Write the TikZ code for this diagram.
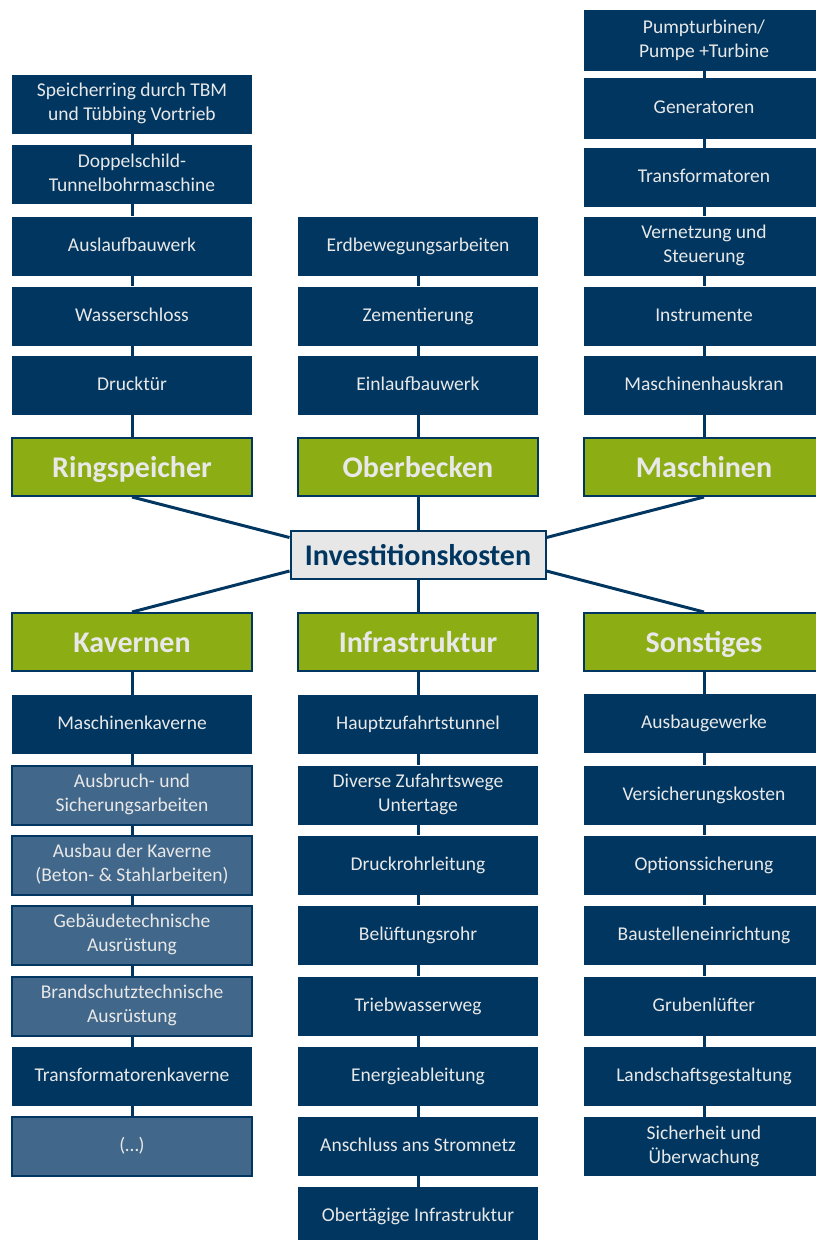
\documentclass[tikz,border=0pt]{standalone}
\usepackage{fontspec}
\setmainfont{Carlito}
\usetikzlibrary{calc}
\definecolor{navy}{RGB}{0,54,96}
\definecolor{leaf}{RGB}{140,173,20}
\definecolor{steel}{RGB}{65,103,138}
\definecolor{pale}{RGB}{231,231,231}
\definecolor{light}{RGB}{232,232,232}
\newcommand\itemstrut{\rule[-4pt]{0pt}{18.6pt}}
\begin{document}
\begin{tikzpicture}[x=1pt,y=-1pt,
    item/.style={rectangle, fill=navy, text=light, minimum width=240pt, minimum height=59pt,
      inner sep=0pt, align=center, font=\fontsize{19.5}{24}\selectfont,
      execute at begin node=\itemstrut, execute at end node=\itemstrut},
    sub/.style={item, fill=steel, draw=navy, line width=2pt},
    group/.style={rectangle, fill=leaf, draw=navy, line width=2pt, text=light, inner sep=0pt,
      minimum width=240pt, minimum height=58pt, text height=22pt, text depth=1.5pt,
      font=\fontsize{30}{36}\selectfont\bfseries},
    root/.style={rectangle, fill=pale, draw=navy, line width=2pt, text=navy, inner sep=0pt,
      minimum width=255pt, minimum height=48pt, text height=22pt, text depth=2pt,
      font=\fontsize{30}{36}\selectfont\bfseries},
    link/.style={navy, line width=3pt}]
        \useasboundingbox (0,0) rectangle (815,1240);
        % Centre
        \node[root] (inv) at (418,555) {Investitionskosten};
        % Ringspeicher
        \node[item] (r1) at (132,104) {Speicherring durch TBM\\und Tübbing Vortrieb};
        \node[item] (r2) at (132,174.5) {Doppelschild-\\Tunnelbohrmaschine};
        \node[item] (r3) at (132,246) {Auslaufbauwerk};
        \node[item] (r4) at (132,316) {Wasserschloss};
        \node[item] (r5) at (132,385.5) {Drucktür};
        \node[group] (ring) at (132,467) {Ringspeicher};
        % Oberbecken
        \node[item] (o1) at (418,246) {Erdbewegungsarbeiten};
        \node[item] (o2) at (418,316) {Zementierung};
        \node[item] (o3) at (418,385.5) {Einlaufbauwerk};
        \node[group] (ober) at (418,467) {Oberbecken};
        % Maschinen
        \node[item, minimum height=61pt] (m1) at (704,40.5) {Pumpturbinen/\\Pumpe +Turbine};
        \node[item, minimum height=61pt] (m2) at (704,108.5) {Generatoren};
        \node[item] (m3) at (704,177.5) {Transformatoren};
        \node[item] (m4) at (704,246) {Vernetzung und\\Steuerung};
        \node[item] (m5) at (704,316) {Instrumente};
        \node[item] (m6) at (704,385.5) {Maschinenhauskran};
        \node[group] (masch) at (704,467) {Maschinen};
        % Kavernen
        \node[group] (kav) at (132,642) {Kavernen};
        \node[item] (k1) at (132,724.5) {Maschinenkaverne};
        \node[sub] (k2) at (132,795) {Ausbruch- und\\Sicherungsarbeiten};
        \node[sub] (k3) at (132,865) {Ausbau der Kaverne\\(Beton- \& Stahlarbeiten)};
        \node[sub] (k4) at (132,935) {Gebäudetechnische\\Ausrüstung};
        \node[sub] (k5) at (132,1006) {Brandschutztechnische\\Ausrüstung};
        \node[item] (k6) at (132,1076.5) {Transformatorenkaverne};
        \node[sub] (k7) at (132,1146.5) {(…)};
        % Infrastruktur
        \node[group] (infra) at (418,642) {Infrastruktur};
        \node[item] (i1) at (418,724.5) {Hauptzufahrtstunnel};
        \node[item] (i2) at (418,795) {Diverse Zufahrtswege\\Untertage};
        \node[item] (i3) at (418,865) {Druckrohrleitung};
        \node[item] (i4) at (418,935) {Belüftungsrohr};
        \node[item] (i5) at (418,1006) {Triebwasserweg};
        \node[item] (i6) at (418,1076.5) {Energieableitung};
        \node[item] (i7) at (418,1146.5) {Anschluss ans Stromnetz};
        \node[item] (i8) at (418,1216.5) {Obertägige Infrastruktur};
        % Sonstiges
        \node[group] (sonst) at (704,642) {Sonstiges};
        \node[item] (s1) at (704,723.5) {Ausbaugewerke};
        \node[item] (s2) at (704,795) {Versicherungskosten};
        \node[item] (s3) at (704,865) {Optionssicherung};
        \node[item] (s4) at (704,935) {Baustelleneinrichtung};
        \node[item] (s5) at (704,1006) {Grubenlüfter};
        \node[item] (s6) at (704,1076.5) {Landschaftsgestaltung};
        \node[item] (s7) at (704,1146.5) {Sicherheit und\\Überwachung};
        % Chains
        \foreach \a/\b in {r1/r2,r2/r3,r3/r4,r4/r5,r5/ring,o1/o2,o2/o3,o3/ober,
            m1/m2,m2/m3,m3/m4,m4/m5,m5/m6,m6/masch,kav/k1,k1/k2,k2/k3,k3/k4,k4/k5,k5/k6,k6/k7,
            infra/i1,i1/i2,i2/i3,i3/i4,i4/i5,i5/i6,i6/i7,i7/i8,
            sonst/s1,s1/s2,s2/s3,s3/s4,s4/s5,s5/s6,s6/s7}
            \draw[link] (\a) -- (\b);
        % Spokes
        \draw[link] (ober) -- (inv);
        \draw[link] (inv) -- (infra);
        \draw[link] (ring.south) -- ($(inv.north west)!0.15!(inv.south west)$);
        \draw[link] (kav.north) -- ($(inv.north west)!0.82!(inv.south west)$);
        \draw[link] (masch.south) -- ($(inv.north east)!0.15!(inv.south east)$);
        \draw[link] (sonst.north) -- ($(inv.north east)!0.82!(inv.south east)$);
\end{tikzpicture}
\end{document}
